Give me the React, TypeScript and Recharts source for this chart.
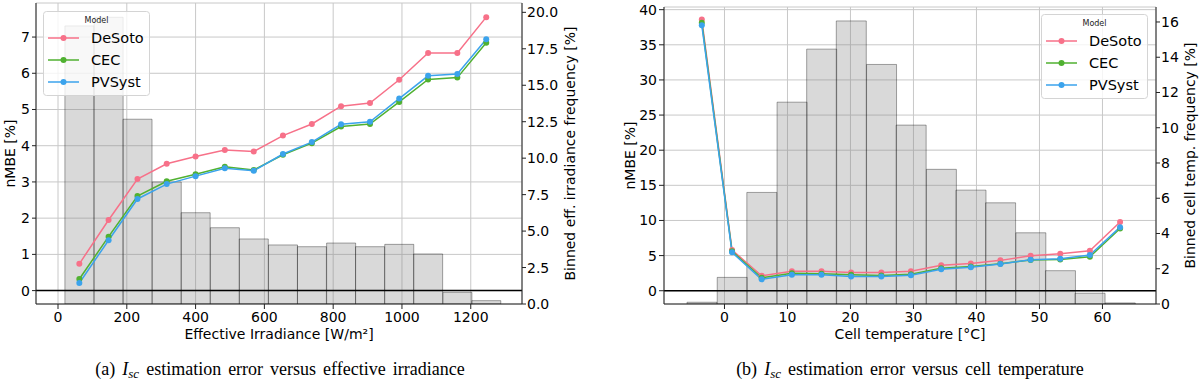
import React from 'react';
import {
  ComposedChart, Bar, Line, XAxis, YAxis, CartesianGrid, ReferenceLine, Legend
} from 'recharts';

// Model names and seaborn husl colours
const modelNames = ['DeSoto', 'CEC', 'PVSyst'];
const modelKeys = ['desoto', 'cec', 'pvsyst'];
const modelColors = ['#f77189', '#50b131', '#3ba3ec'];

// (a) effective irradiance bins (bin centres, W/m²)
const irrCenters = [62, 147, 231, 316, 400, 485, 569, 654, 738, 823, 907, 992, 1076, 1161, 1245];
const irrFreq = [19.07, 19.66, 12.67, 8.37, 6.26, 5.23, 4.46, 4.05, 3.93, 4.18, 3.93, 4.09, 3.43, 0.8, 0.23];
const irrDeSoto = [0.74, 1.95, 3.08, 3.5, 3.7, 3.88, 3.84, 4.28, 4.6, 5.09, 5.18, 5.82, 6.56, 6.56, 7.55];
const irrCEC = [0.32, 1.49, 2.61, 3.02, 3.21, 3.42, 3.33, 3.75, 4.07, 4.53, 4.6, 5.21, 5.83, 5.88, 6.84];
const irrPVSyst = [0.21, 1.39, 2.53, 2.94, 3.16, 3.38, 3.31, 3.77, 4.1, 4.59, 4.66, 5.3, 5.93, 5.98, 6.94];
const irrXTicks = [0, 200, 400, 600, 800, 1000, 1200];
const irrYTicks = [0, 1, 2, 3, 4, 5, 6, 7];
const irrFreqTicks = [0, 2.5, 5, 7.5, 10, 12.5, 15, 17.5, 20];

// (b) cell temperature bins (bin centres, °C)
const tempCenters = [-3.6, 1.2, 5.9, 10.7, 15.4, 20.1, 24.9, 29.6, 34.4, 39.1, 43.8, 48.6, 53.3, 58.0, 62.8];
const tempFreq = [0.1, 1.51, 6.33, 11.45, 14.46, 16.06, 13.59, 10.15, 7.64, 6.46, 5.74, 4.04, 1.89, 0.61, 0.06];
const tempDeSoto = [38.6, 5.79, 2.13, 2.76, 2.76, 2.61, 2.61, 2.76, 3.61, 3.89, 4.32, 4.98, 5.26, 5.69, 9.77];
const tempCEC = [38.15, 5.6, 1.85, 2.47, 2.42, 2.27, 2.18, 2.33, 3.2, 3.43, 3.85, 4.37, 4.45, 4.83, 8.85];
const tempPVSyst = [37.8, 5.46, 1.62, 2.27, 2.27, 2.04, 2.04, 2.19, 3.04, 3.33, 3.8, 4.41, 4.55, 5.07, 9.05];
const tempXTicks = [0, 10, 20, 30, 40, 50, 60];
const tempYTicks = [0, 5, 10, 15, 20, 25, 30, 35, 40];
const tempFreqTicks = [0, 2, 4, 6, 8, 10, 12, 14, 16];

const irrData = irrCenters.map((x, i) => ({
  x, freq: irrFreq[i], desoto: irrDeSoto[i], cec: irrCEC[i], pvsyst: irrPVSyst[i]
}));
const tempData = tempCenters.map((x, i) => ({
  x, freq: tempFreq[i], desoto: tempDeSoto[i], cec: tempCEC[i], pvsyst: tempPVSyst[i]
}));

const FONT = 'DejaVu Sans, sans-serif';
const tickStyle = { fontSize: 14, fill: '#000', fontFamily: FONT };
const labelStyle = { fontSize: 14, fill: '#000', fontFamily: FONT };

// matplotlib-like legend box with a small "Model" title
const ModelLegend = () => (
  <svg width={107} height={85} style={{ display: 'block' }}>
    <rect x={0.5} y={0.5} width={106} height={84} rx={3} fill="rgba(255,255,255,0.8)" stroke="#d4d4d4" />
    <text x={53.5} y={12} textAnchor="middle" fontSize={8} fontFamily={FONT} fill="#222">Model</text>
    {modelNames.map((name, i) => {
      const cy = 27 + i * 22;
      return (
        <g key={name}>
          <line x1={5} x2={36} y1={cy} y2={cy} stroke={modelColors[i]} strokeWidth={1.5} />
          <circle cx={20.5} cy={cy} r={3} fill={modelColors[i]} />
          <text x={48} y={cy + 5} fontSize={14.5} fontFamily={FONT} fill="#000">{name}</text>
        </g>
      );
    })}
  </svg>
);

interface PanelProps {
  data: any[];
  xDomain: [number, number];
  yDomain: [number, number];
  freqDomain: [number, number];
  xTicks: number[];
  yTicks: number[];
  freqTicks: number[];
  freqFormat: (v: number) => string;
  xLabel: string;
  freqLabel: string;
  leftWidth: number;
  rightWidth: number;
  top: number;
  leftTickSize: number;
  leftLabelDx: number;
  rightLabelDx: number;
  legendLeft: number;
  legendTop: number;
}

const Panel: React.FC<PanelProps> = (p) => (
  <ComposedChart
    width={600}
    height={345}
    data={p.data}
    margin={{ top: p.top, right: 0, bottom: 0, left: 0 }}
    barCategoryGap={0}
    barGap={0}
  >
    <CartesianGrid yAxisId="nmbe" stroke="#c8c8c8" strokeWidth={1} />
    <XAxis
      dataKey="x"
      type="number"
      domain={p.xDomain}
      ticks={p.xTicks}
      allowDataOverflow
      height={41}
      tick={tickStyle}
      tickSize={5}
      tickMargin={3}
      stroke="#222"
      label={{ value: p.xLabel, position: 'insideBottom', offset: 6, style: labelStyle }}
    />
    <XAxis
      xAxisId="top"
      orientation="top"
      dataKey="x"
      type="number"
      domain={p.xDomain}
      allowDataOverflow
      height={0}
      tick={false}
      tickLine={false}
      stroke="#222"
    />
    <YAxis
      yAxisId="nmbe"
      type="number"
      domain={p.yDomain}
      ticks={p.yTicks}
      allowDataOverflow
      width={p.leftWidth}
      tick={tickStyle}
      tickSize={p.leftTickSize}
      tickMargin={2}
      stroke="#222"
      label={{ value: 'nMBE [%]', angle: -90, position: 'center', dx: p.leftLabelDx, style: labelStyle }}
    />
    <YAxis
      yAxisId="freq"
      orientation="right"
      type="number"
      domain={p.freqDomain}
      ticks={p.freqTicks}
      tickFormatter={p.freqFormat}
      allowDataOverflow
      width={p.rightWidth}
      tick={tickStyle}
      tickSize={4}
      tickMargin={1}
      stroke="#222"
      label={{ value: p.freqLabel, angle: -90, position: 'center', dx: p.rightLabelDx, style: labelStyle }}
    />
    <Bar
      yAxisId="freq"
      dataKey="freq"
      fill="#808080"
      fillOpacity={0.3}
      stroke="#000"
      strokeOpacity={0.35}
      strokeWidth={1}
      isAnimationActive={false}
    />
    <ReferenceLine yAxisId="nmbe" y={0} stroke="#000" strokeWidth={1.5} />
    {modelKeys.map((k, i) => (
      <Line
        key={k}
        yAxisId="nmbe"
        dataKey={k}
        name={modelNames[i]}
        stroke={modelColors[i]}
        strokeWidth={1.5}
        dot={{ r: 3, fill: modelColors[i], stroke: modelColors[i], strokeWidth: 0 }}
        activeDot={false}
        isAnimationActive={false}
      />
    ))}
    <Legend
      layout="vertical"
      align="center"
      verticalAlign="middle"
      content={() => <ModelLegend />}
      wrapperStyle={{ left: p.legendLeft, top: p.legendTop, width: 107, height: 85 }}
    />
  </ComposedChart>
);

const captionStyle: React.CSSProperties = {
  fontFamily: 'Liberation Serif, serif',
  fontSize: 18,
  fill: '#000',
  wordSpacing: 2.5,
};

const Caption = ({ label, rest, cx }: { label: string; rest: string; cx: number }) => (
  <text x={cx} y={375} textAnchor="middle" style={captionStyle}>
    {label}{' '}
    <tspan fontStyle="italic">I</tspan>
    <tspan fontStyle="italic" fontSize={13} dy={3}>sc</tspan>
    <tspan dy={-3}>{' ' + rest}</tspan>
  </text>
);

export default function App() {
  return (
    <div style={{ position: 'absolute', left: 0, top: 0, width: 1200, height: 386, background: '#fff' }}>
      <div style={{ position: 'absolute', left: 0, top: 0 }}>
        <Panel
          data={irrData}
          xDomain={[-64, 1349]}
          yDomain={[-0.37, 7.94]}
          freqDomain={[0, 20.64]}
          xTicks={irrXTicks}
          yTicks={irrYTicks}
          freqTicks={irrFreqTicks}
          freqFormat={(v) => v.toFixed(1)}
          xLabel="Effective Irradiance [W/m²]"
          freqLabel="Binned eff. irradiance frequency [%]"
          leftWidth={36}
          rightWidth={78}
          top={3}
          leftTickSize={4}
          leftLabelDx={-8}
          rightLabelDx={9}
          legendLeft={43}
          legendTop={11}
        />
      </div>
      <div style={{ position: 'absolute', left: 600, top: 0 }}>
        <Panel
          data={tempData}
          xDomain={[-9.6, 68.5]}
          yDomain={[-1.89, 40.38]}
          freqDomain={[0, 16.85]}
          xTicks={tempXTicks}
          yTicks={tempYTicks}
          freqTicks={tempFreqTicks}
          freqFormat={(v) => String(v)}
          xLabel="Cell temperature [°C]"
          freqLabel="Binned cell temp. frequency [%]"
          leftWidth={64}
          rightWidth={44}
          top={7}
          leftTickSize={5}
          leftLabelDx={-2}
          rightLabelDx={12}
          legendLeft={441}
          legendTop={14}
        />
      </div>
      <svg width={1200} height={386} style={{ position: 'absolute', left: 0, top: 0, pointerEvents: 'none' }}>
        <Caption label="(a)" rest="estimation error versus effective irradiance" cx={280} />
        <Caption label="(b)" rest="estimation error versus cell temperature" cx={910} />
      </svg>
    </div>
  );
}
